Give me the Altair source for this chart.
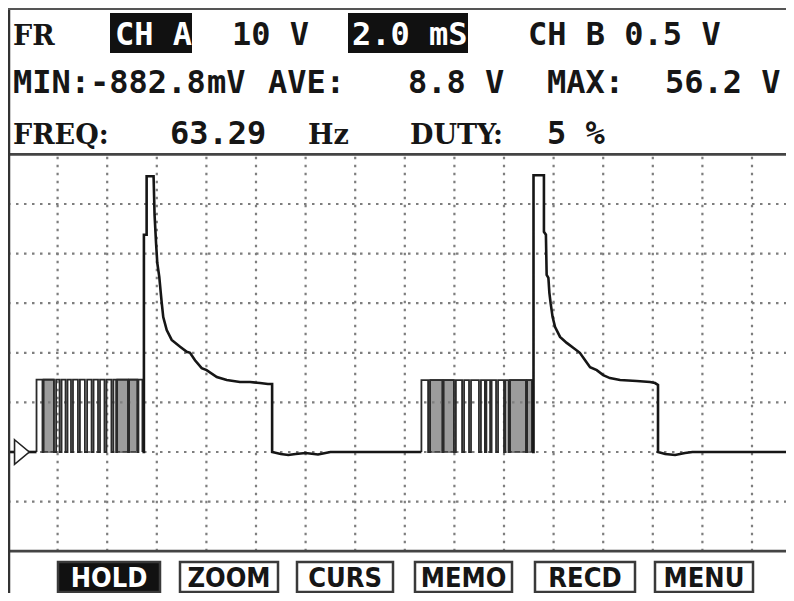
import altair as alt
import pandas as pd

# ---------------- data ----------------
# time in ms (2 ms/div), voltage in V (10 V/div)
lead_t = [0.0, 1.15]
lead_v = [0.0, 0.0]

# burst 1 (PWM pulses) : pulse on / off times, high level, dense (grey) zones
b1_on = [1.15, 1.43, 1.94, 2.16, 2.40, 2.62, 2.90, 3.19, 3.45, 3.71, 3.97, 4.25, 4.40, 4.88, 5.26]
b1_off = [1.39, 1.85, 2.08, 2.32, 2.54, 2.82, 3.10, 3.37, 3.63, 3.89, 4.17, 4.36, 4.84, 5.22, 5.42]
b1_level = 14.6
b1_band_start = [1.43, 4.40, 4.88]
b1_band_end = [1.85, 4.84, 5.22]

# spike 1 + decay + gap
s1_t = [5.42, 5.48, 5.48, 5.59, 5.59, 5.87, 5.91, 5.97, 6.02, 6.10, 6.16, 6.20, 6.26,
        6.40, 6.60, 6.94, 7.21, 7.34, 7.54, 7.81, 8.01, 8.42, 8.82, 9.35, 9.76, 10.16,
        10.48, 10.65, 10.65, 11.0, 11.3, 11.6, 12.0, 12.5, 12.7, 13.0, 16.67]
s1_v = [0.0, 0.0, 43.8, 43.8, 55.6, 55.6, 47.8, 42.1, 38.1, 35.3, 32.1, 30.0, 27.2,
        24.6, 22.6, 21.2, 20.2, 20.0, 18.5, 16.9, 16.5, 15.1, 14.5, 14.1, 14.1, 13.9,
        13.7, 13.7, 0.0, -0.4, -0.6, -0.4, -0.2, -0.5, -0.3, 0.0, 0.0]

# burst 2
b2_on = [16.67, 17.02, 17.56, 18.06, 18.39, 18.67, 19.07, 19.29, 19.50, 19.76, 20.06, 20.24, 20.93]
b2_off = [16.94, 17.52, 17.98, 18.31, 18.59, 18.99, 19.23, 19.44, 19.68, 20.00, 20.18, 20.89, 21.13]
b2_level = 14.5
b2_band_start = [17.02, 17.56, 20.24, 20.93]
b2_band_end = [17.52, 17.98, 20.89, 21.13]

# spike 2 + decay + tail
s2_t = [21.13, 21.19, 21.19, 21.61, 21.61, 21.69, 21.72, 21.79, 21.83, 21.88, 21.96,
        22.06, 22.26, 22.53, 22.79, 23.06, 23.27, 23.47, 23.74, 24.00, 24.27, 24.68,
        25.35, 25.89, 26.09, 26.21, 26.21, 26.5, 26.9, 27.3, 27.6, 32.0]
s2_v = [0.0, 0.0, 55.8, 55.8, 44.4, 43.8, 35.7, 35.1, 32.1, 30.0, 27.2, 25.2, 23.2,
        22.0, 21.0, 20.0, 18.5, 17.1, 16.5, 15.5, 14.9, 14.5, 14.3, 14.1, 13.9, 13.5,
        0.0, -0.4, -0.6, -0.2, 0.0, 0.0]

trigger_t = [0.56]
trigger_v = [0.0]

grid_t = [2, 4, 6, 8, 10, 12, 14, 16, 18, 20, 22, 24, 26, 28, 30]
grid_v = [-10, 0, 10, 20, 30, 40, 50]
screen_t = [0, 32]
screen_v = [-20, 60]

row1 = ["FR", "CH A", "10 V", "2.0 mS", "CH B 0.5 V"]
row2 = ["MIN:-882.8", "mV", "AVE:", "8.8 V", "MAX:", "56.2 V"]
row3 = ["FREQ:", "63.29", "Hz", "DUTY:", "5 %"]
buttons = ["HOLD", "ZOOM", "CURS", "MEMO", "RECD", "MENU"]

# ---------------- layout ----------------
W, H = 778, 585
PX_PER_MS = 24.8
PX_PER_V = 4.96
ZERO_Y = 444
xs = alt.Scale(domain=[0, W / PX_PER_MS], nice=False, zero=False)
ys = alt.Scale(domain=[(ZERO_Y - H) / PX_PER_V, ZERO_Y / PX_PER_V], nice=False, zero=False)

MONO = "DejaVu Sans Mono"
SERIF = "DejaVu Serif"
INK = "#161616"


def steps(on, off, level):
    t, v = [], []
    for a, b in zip(on, off):
        t += [a, a, b, b]
        v += [0.0, level, level, 0.0]
    return t, v


bt1, bv1 = steps(b1_on, b1_off, b1_level)
bt2, bv2 = steps(b2_on, b2_off, b2_level)
burst_df = pd.DataFrame({
    "t": bt1 + bt2, "v": bv1 + bv2,
    "seg": ["b1"] * len(bt1) + ["b2"] * len(bt2),
    "i": list(range(len(bt1))) + list(range(len(bt2))),
})
main_df = pd.DataFrame({
    "t": lead_t + s1_t + s2_t, "v": lead_v + s1_v + s2_v,
    "seg": ["a"] * len(lead_t) + ["s1"] * len(s1_t) + ["s2"] * len(s2_t),
    "i": list(range(len(lead_t))) + list(range(len(s1_t))) + list(range(len(s2_t))),
})
band_df = pd.DataFrame({
    "t0": b1_band_start + b2_band_start, "t1": b1_band_end + b2_band_end,
    "v1": [b1_level] * len(b1_band_start) + [b2_level] * len(b2_band_start),
})
band_df["v0"] = 0.0

X = lambda f: alt.X(f, scale=xs, axis=None)
Y = lambda f: alt.Y(f, scale=ys, axis=None)

bands = alt.Chart(band_df).mark_rect(fill="#9c9c9c", stroke="#2a2a2a", strokeWidth=1.6).encode(
    x=X("t0:Q"), x2="t1:Q", y=Y("v0:Q"), y2="v1:Q")

GRID = dict(color="#7e7e7e", strokeWidth=2.2, strokeDash=[2.5, 5.5])
vgrid = alt.Chart(pd.DataFrame({"t": grid_t, "v0": screen_v[0], "v1": screen_v[1]})).mark_rule(
    **GRID).encode(x=X("t:Q"), y=Y("v0:Q"), y2="v1:Q")
hgrid = alt.Chart(pd.DataFrame({"v": grid_v, "t0": screen_t[0], "t1": screen_t[1]})).mark_rule(
    **GRID).encode(y=Y("v:Q"), x=X("t0:Q"), x2="t1:Q")
frame = alt.Chart(pd.DataFrame({"v": screen_v, "t0": screen_t[0], "t1": screen_t[1]})).mark_rule(
    color="#444444", strokeWidth=2.8).encode(
    y=Y("v:Q"), x=X("t0:Q"), x2="t1:Q")

burst_line = alt.Chart(burst_df).mark_line(color="#2a2a2a", strokeWidth=1.8).encode(
    x=X("t:Q"), y=Y("v:Q"), detail="seg:N", order="i:Q")
main_line = alt.Chart(main_df).mark_line(color=INK, strokeWidth=2.6).encode(
    x=X("t:Q"), y=Y("v:Q"), detail="seg:N", order="i:Q")
trigger = alt.Chart(pd.DataFrame({"t": trigger_t, "v": trigger_v})).mark_point(
    shape="M-0.6,-1L0.6,0L-0.6,1Z", size=600, filled=True, fill="white",
    stroke="#222222", strokeWidth=1.6, opacity=1).encode(x=X("t:Q"), y=Y("v:Q"))

layers = [bands, vgrid, hgrid, burst_line, main_line, trigger, frame]

# screen borders
layers.append(alt.Chart(pd.DataFrame({"k": [0]})).mark_rule(color="#333333", strokeWidth=2.5).encode(
    x=alt.value(1), y=alt.value(0), y2=alt.value(H)))
layers.append(alt.Chart(pd.DataFrame({"k": [0]})).mark_rule(color="#555555", strokeWidth=2.2).encode(
    y=alt.value(1), x=alt.value(0), x2=alt.value(W)))

# inverse boxes in header
for x0, x1 in [(102, 184), (340, 460)]:
    layers.append(alt.Chart(pd.DataFrame({"k": [0]})).mark_rect(color="#111111").encode(
        x=alt.value(x0), x2=alt.value(x1), y=alt.value(5), y2=alt.value(45)))

# header texts: (label, x, baseline y, font, size, colour)
header_layout = [
    (row1[0], 5, 37, SERIF, 27, INK), (row1[1], 107, 37, MONO, 32, "white"),
    (row1[2], 224, 37, MONO, 32, INK), (row1[3], 344, 37, MONO, 32, "white"),
    (row1[4], 520, 37, MONO, 32, INK),
    (row2[0], 5, 85, MONO, 32, INK), (row2[1], 199, 85, MONO, 32, INK),
    (row2[2], 260, 85, MONO, 32, INK), (row2[3], 400, 85, MONO, 32, INK),
    (row2[4], 539, 85, MONO, 32, INK), (row2[5], 657, 85, MONO, 32, INK),
    (row3[0], 5, 136, SERIF, 27, INK), (row3[1], 162, 136, MONO, 32, INK),
    (row3[2], 300, 136, SERIF, 27, INK), (row3[3], 402, 136, SERIF, 27, INK),
    (row3[4], 539, 136, MONO, 32, INK),
]
for lab, x, y, font, size, col in header_layout:
    layers.append(alt.Chart(pd.DataFrame({"label": [lab]})).mark_text(
        align="left", baseline="alphabetic", font=font, fontSize=size,
        fontWeight="bold", color=col).encode(
        x=alt.value(x), y=alt.value(y), text="label:N"))

# bottom soft-key buttons
btn_x = [(50, 152), (172, 270), (289, 385), (407, 504), (527, 627), (647, 745)]
BTN_FONT = "DejaVu Sans Condensed, Liberation Sans Narrow, DejaVu Sans"
for k, (lab, (x0, x1)) in enumerate(zip(buttons, btn_x)):
    inverse = k == 0
    layers.append(alt.Chart(pd.DataFrame({"k": [0]})).mark_rect(
        fill="#111111" if inverse else "white", stroke="#3a3a3a", strokeWidth=2.5).encode(
        x=alt.value(x0), x2=alt.value(x1), y=alt.value(554), y2=alt.value(584)))
    layers.append(alt.Chart(pd.DataFrame({"label": [lab]})).mark_text(
        align="center", baseline="alphabetic", font=BTN_FONT, fontSize=27,
        fontWeight="bold", color="white" if inverse else INK).encode(
        x=alt.value((x0 + x1) / 2), y=alt.value(579), text="label:N"))

chart = alt.layer(*layers).properties(
    width=W, height=H, padding=0, autosize=alt.AutoSizeParams(type="none"),
    background="white",
).configure_view(stroke=None)

chart.save("out.html", embed_options={"renderer": "svg", "actions": False})
